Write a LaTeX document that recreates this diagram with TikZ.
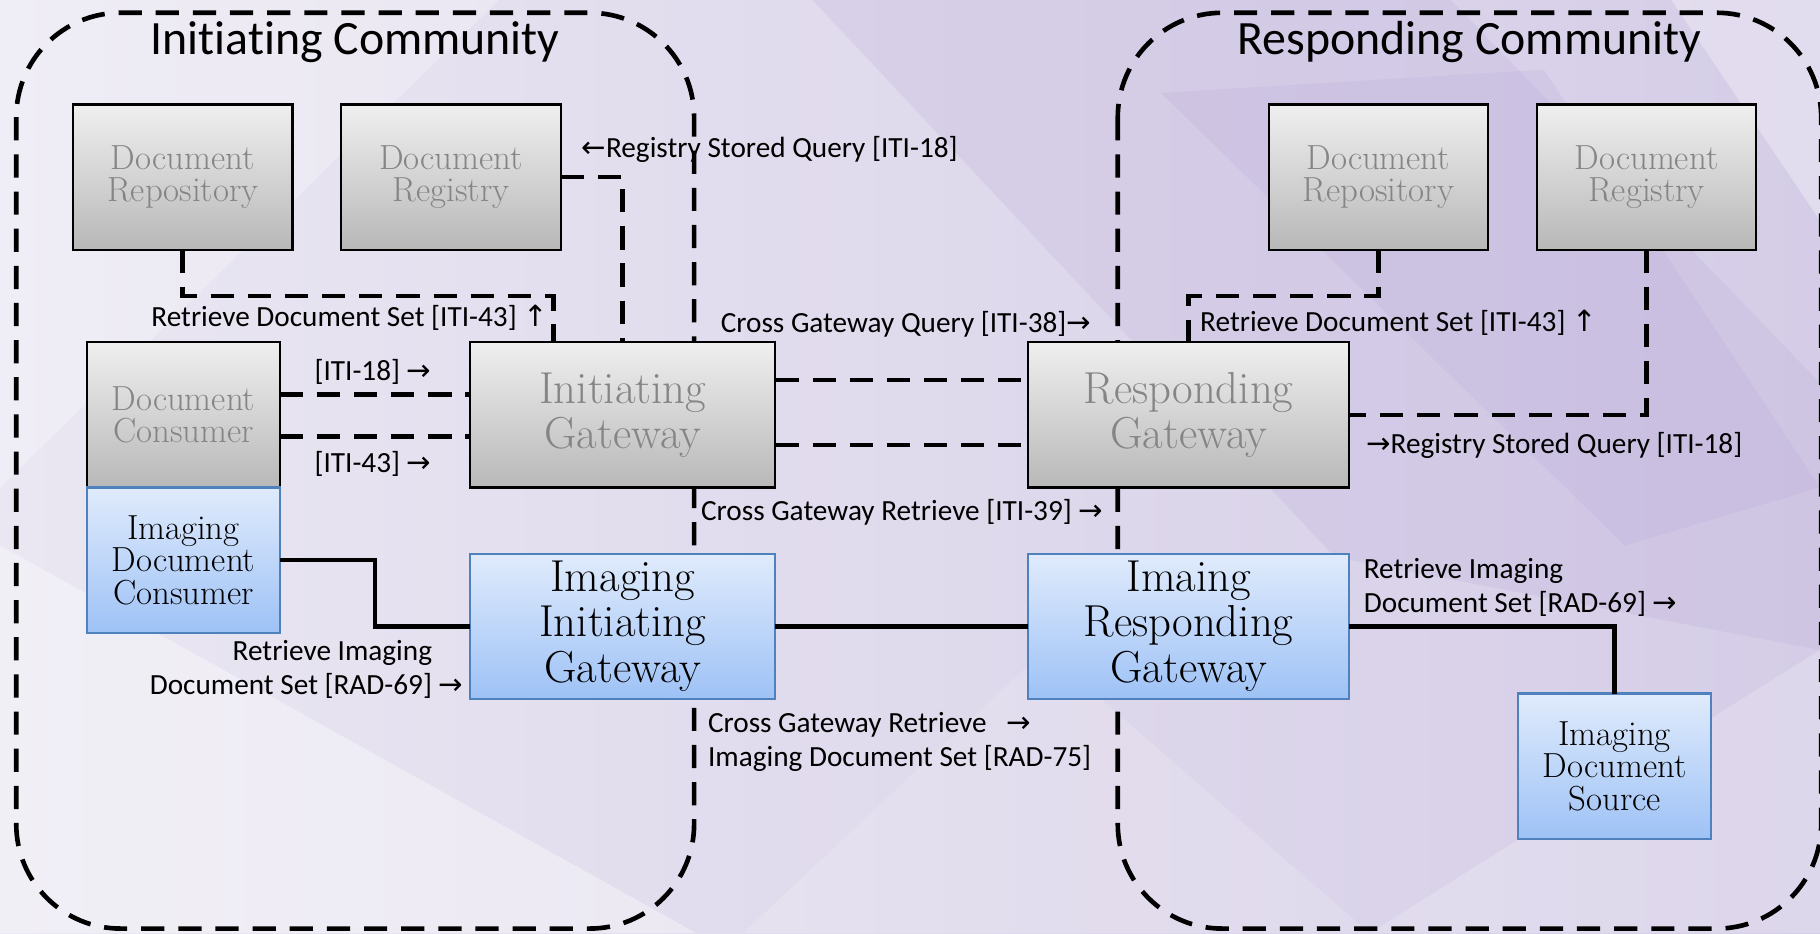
\documentclass[tikz,border=0pt]{standalone}
\usepackage{fontspec}
\newfontfamily\calfont{Carlito}[Ligatures=NoCommon]
\newfontfamily\arrfont{DejaVu Sans}
\usepackage{tikz}
\usetikzlibrary{calc}
\definecolor{bgL}{HTML}{EAE7F2}
\definecolor{bgM}{HTML}{D0C7E4}
\definecolor{bgR}{HTML}{D5CDE7}
\definecolor{bgDark}{HTML}{B6A6D6}
\definecolor{grayTop}{HTML}{EFEFEF}
\definecolor{grayBot}{HTML}{B8B8B8}
\definecolor{grayText}{HTML}{858585}
\definecolor{blueTop}{HTML}{E0EBFC}
\definecolor{blueBot}{HTML}{9EC2F6}
\definecolor{blueEdge}{HTML}{4F81BD}
\newcommand{\rarr}{{\arrfont →}}
\newcommand{\larr}{{\arrfont ←}}
\newcommand{\uarr}{{\arrfont ↑}}

\begin{document}
\begin{tikzpicture}[x=0.5pt, y=-0.5pt, line width=2pt,
        every node/.append style={inner sep=0pt, outer sep=0pt, align=center},
        dline/.style={dash pattern=on 10pt off 6pt},
        sline/.style={solid}]
      \tikzstyle{greybox} = [draw=black, line width=0.9pt, top color=grayTop, bottom color=grayBot, text=grayText]
      \tikzstyle{bluebox} = [draw=blueEdge, line width=0.9pt, top color=blueTop, bottom color=blueBot, text=black]
      \tikzstyle{actorsize} = [minimum width=94.5pt, minimum height=62.5pt, font=\fontsize{15}{14}\selectfont]
      \tikzstyle{narrowsize} = [minimum width=83pt, minimum height=62.5pt, font=\fontsize{15}{14}\selectfont]
      \tikzstyle{gatesize} = [minimum width=131.5pt, minimum height=62.5pt, font=\fontsize{19.3}{19.5}\selectfont]
      \tikzstyle{community} = [font=\calfont\fontsize{20.6}{24}\selectfont]
      \tikzstyle{txn} = [font=\calfont\fontsize{12.6}{14.5}\selectfont]

      \useasboundingbox (0,0) rectangle (1568,804);
      \clip (0,0) rectangle (1568,804);
      \shade[left color=bgL, middle color=bgM, right color=bgR] (0,0) rectangle (1568,804);
      \fill[white, opacity=0.25] (0,0) -- (430,0) -- (0,420) -- cycle;
      \fill[white, opacity=0.35] (0,470) -- (600,804) -- (0,804) -- cycle;
      \fill[bgDark, opacity=0.2] (700,0) -- (1250,0) -- (1568,330) -- (1568,560) -- (1150,480) -- cycle;
      \fill[bgDark, opacity=0.2] (1000,80) -- (1330,60) -- (1568,420) -- (1400,470) -- cycle;
      \fill[white, opacity=0.3] (1440,0) -- (1568,0) -- (1568,190) -- cycle;
      \fill[white, opacity=0.2] (1180,804) -- (1568,560) -- (1568,804) -- cycle;
      \fill[white, opacity=0.15] (640,804) -- (900,560) -- (1180,804) -- cycle;

      \draw[dline, rounded corners=45pt] (14,11) rectangle (598,800);
      \draw[dline, rounded corners=45pt] (963,11) rectangle (1569,800);
      \node (initTitle) [community] at (306,36) {Initiating Community};
      \node (respTitle) [community] at (1266,36) {Responding Community};

      \node (repoL) [greybox, actorsize] at (157.5,152.5) {Document\\Repository};
      \node (regL) [greybox, actorsize] at (388.5,152.5) {Document\\Registry};
      \node (cons) [greybox, narrowsize] at (158,357.5) {Document\\Consumer};
      \node (imgCons) [bluebox, narrowsize] at (158,482.5) {Imaging\\Document\\Consumer};
      \node (initGW) [greybox, gatesize] at (536.5,357.5) {Initiating\\Gateway};
      \node (imgInitGW) [bluebox, gatesize] at (536.5,539.5) {Imaging\\Initiating\\Gateway};
      \node (respGW) [greybox, gatesize, minimum width=138pt] at (1024,357.5) {Responding\\Gateway};
      \node (imgRespGW) [bluebox, gatesize, minimum width=138pt] at (1024,539.5) {Imaing\\Responding\\Gateway};
      \node (repoR) [greybox, actorsize] at (1187.5,152.5) {Document\\Repository};
      \node (regR) [greybox, actorsize] at (1418.5,152.5) {Document\\Registry};
      \node (imgSrc) [bluebox, narrowsize] at (1391,660) {Imaging\\Document\\Source};

      \draw[dline] (repoL.south) -- ++(0,40) -| ([xshift=36pt]initGW.north west);
      \draw[dline] (regL.east) -| (initGW.north);
      \draw[dline] ([yshift=8.75pt]cons.east) -- ([yshift=8.75pt]cons.east -| initGW.west);
      \draw[dline] ([yshift=-9.25pt]cons.east) -- ([yshift=-9.25pt]cons.east -| initGW.west);
      \draw[dline] ([yshift=15pt]initGW.east) -- ([yshift=15pt]initGW.east -| respGW.west);
      \draw[dline] ([yshift=-13pt]initGW.east) -- ([yshift=-13pt]initGW.east -| respGW.west);
      \draw[dline] (repoR.south) -- ++(0,40) -| (respGW.north);
      \draw[dline] (regR.south) |- (respGW.east);
      \draw[sline] (imgCons.east) -- ++(82,0) |- (imgInitGW.west);
      \draw[sline] (imgInitGW.east) -- (imgRespGW.west);
      \draw[sline] (imgRespGW.east) -| (imgSrc.north);

      \node (lblRetL) [txn, anchor=east] at (472,274) {Retrieve Document Set [ITI-43] \uarr};
      \node (lblRegL) [txn, anchor=west] at (501,129) {\larr Registry Stored Query [ITI-18]};
      \node (lblCons18) [txn, anchor=west] at (271,320) {[ITI-18] \rarr};
      \node (lblCons43) [txn, anchor=west] at (271,400) {[ITI-43] \rarr};
      \node (lblXQuery) [txn, anchor=west] at (621,279) {Cross Gateway Query [ITI-38]\rarr};
      \node (lblXRetr) [txn, anchor=west] at (604,441) {Cross Gateway Retrieve [ITI-39] \rarr};
      \node (lblRadL) [txn, anchor=east, align=right] at (399,577) {Retrieve Imaging\hphantom{\ \rarr}\\Document Set [RAD-69] \rarr};
      \node (lblRad75) [txn, anchor=west, align=left] at (610,639) {Cross Gateway Retrieve\ \ \ \rarr\\Imaging Document Set [RAD-75]};
      \node (lblRadR) [txn, anchor=west, align=left] at (1175,506) {Retrieve Imaging\\Document Set [RAD-69] \rarr};
      \node (lblRetR) [txn, anchor=west] at (1034,278) {Retrieve Document Set [ITI-43] \uarr};
      \node (lblRegR) [txn, anchor=west] at (1177,384) {\rarr Registry Stored Query [ITI-18]};
    \end{tikzpicture}
\end{document}
